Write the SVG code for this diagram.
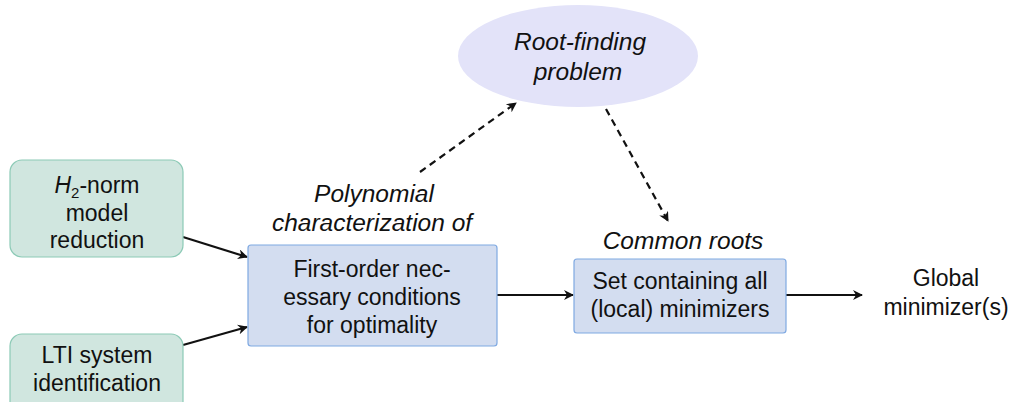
<svg xmlns="http://www.w3.org/2000/svg" width="1017" height="402" viewBox="0 0 1017 402">
  <style>
    text { font-family: "Liberation Sans", "DejaVu Sans", sans-serif; font-size: 23px; fill: #111; text-anchor: middle; }
    .it { font-style: italic; font-size: 24.5px; }
    .green { fill: #d0e6df; stroke: #8ccab6; stroke-width: 1.2; }
    .blue { fill: #d3ddf0; stroke: #7fa9e2; stroke-width: 1.2; }
    .ell { fill: #e3e3f9; stroke: none; }
    .edge { stroke: #111; stroke-width: 2.2; fill: none; marker-end: url(#arr); }
    .dash { stroke-dasharray: 7 5; }
  </style>
  <defs>
    <marker id="arr" viewBox="0 0 10 10" refX="9" refY="5" markerWidth="11" markerHeight="10" markerUnits="userSpaceOnUse" orient="auto">
      <path d="M0,0 L10,5 L0,10 L3,5 z" fill="#111"/>
    </marker>
  </defs>

  <g id="connectors">
    <line class="edge" x1="183" y1="237" x2="247" y2="257"/>
    <line class="edge" x1="183" y1="345" x2="247" y2="327"/>
    <line class="edge" x1="497" y1="295" x2="573" y2="295"/>
    <line class="edge" x1="786" y1="295" x2="862" y2="295"/>
    <line class="edge dash" x1="420" y1="172" x2="516" y2="103"/>
    <line class="edge dash" x1="606" y1="109" x2="668" y2="221"/>
  </g>

  <g id="h2-norm">
    <rect class="green" x="10" y="160" width="173" height="97" rx="12"/>
    <text x="97" y="193"><tspan font-style="italic">H</tspan><tspan font-size="15" dy="5">2</tspan><tspan dy="-5">-norm</tspan></text>
    <text x="97" y="221">model</text>
    <text x="97" y="248">reduction</text>
  </g>

  <g id="lti">
    <rect class="green" x="10" y="334" width="173" height="80" rx="12"/>
    <text x="97" y="363">LTI system</text>
    <text x="97" y="391">identification</text>
  </g>

  <g id="foc">
    <rect class="blue" x="248" y="245" width="249" height="101" rx="3"/>
    <text x="372" y="277">First-order nec-</text>
    <text x="372" y="305">essary conditions</text>
    <text x="372" y="333">for optimality</text>
  </g>

  <g id="poly-label">
    <text class="it" x="374" y="202">Polynomial</text>
    <text class="it" x="372" y="231">characterization of</text>
  </g>

  <g id="root-finding">
    <ellipse class="ell" cx="578" cy="56" rx="120" ry="51"/>
    <text class="it" x="580" y="50">Root-finding</text>
    <text class="it" x="578" y="80">problem</text>
  </g>

  <g id="set">
    <rect class="blue" x="574" y="259" width="212" height="74" rx="3"/>
    <text x="680" y="289">Set containing all</text>
    <text x="680" y="317">(local) minimizers</text>
  </g>

  <g id="common-label">
    <text class="it" x="683" y="249">Common roots</text>
  </g>

  <g id="global">
    <text x="946" y="286">Global</text>
    <text x="946" y="315">minimizer(s)</text>
  </g>
</svg>
